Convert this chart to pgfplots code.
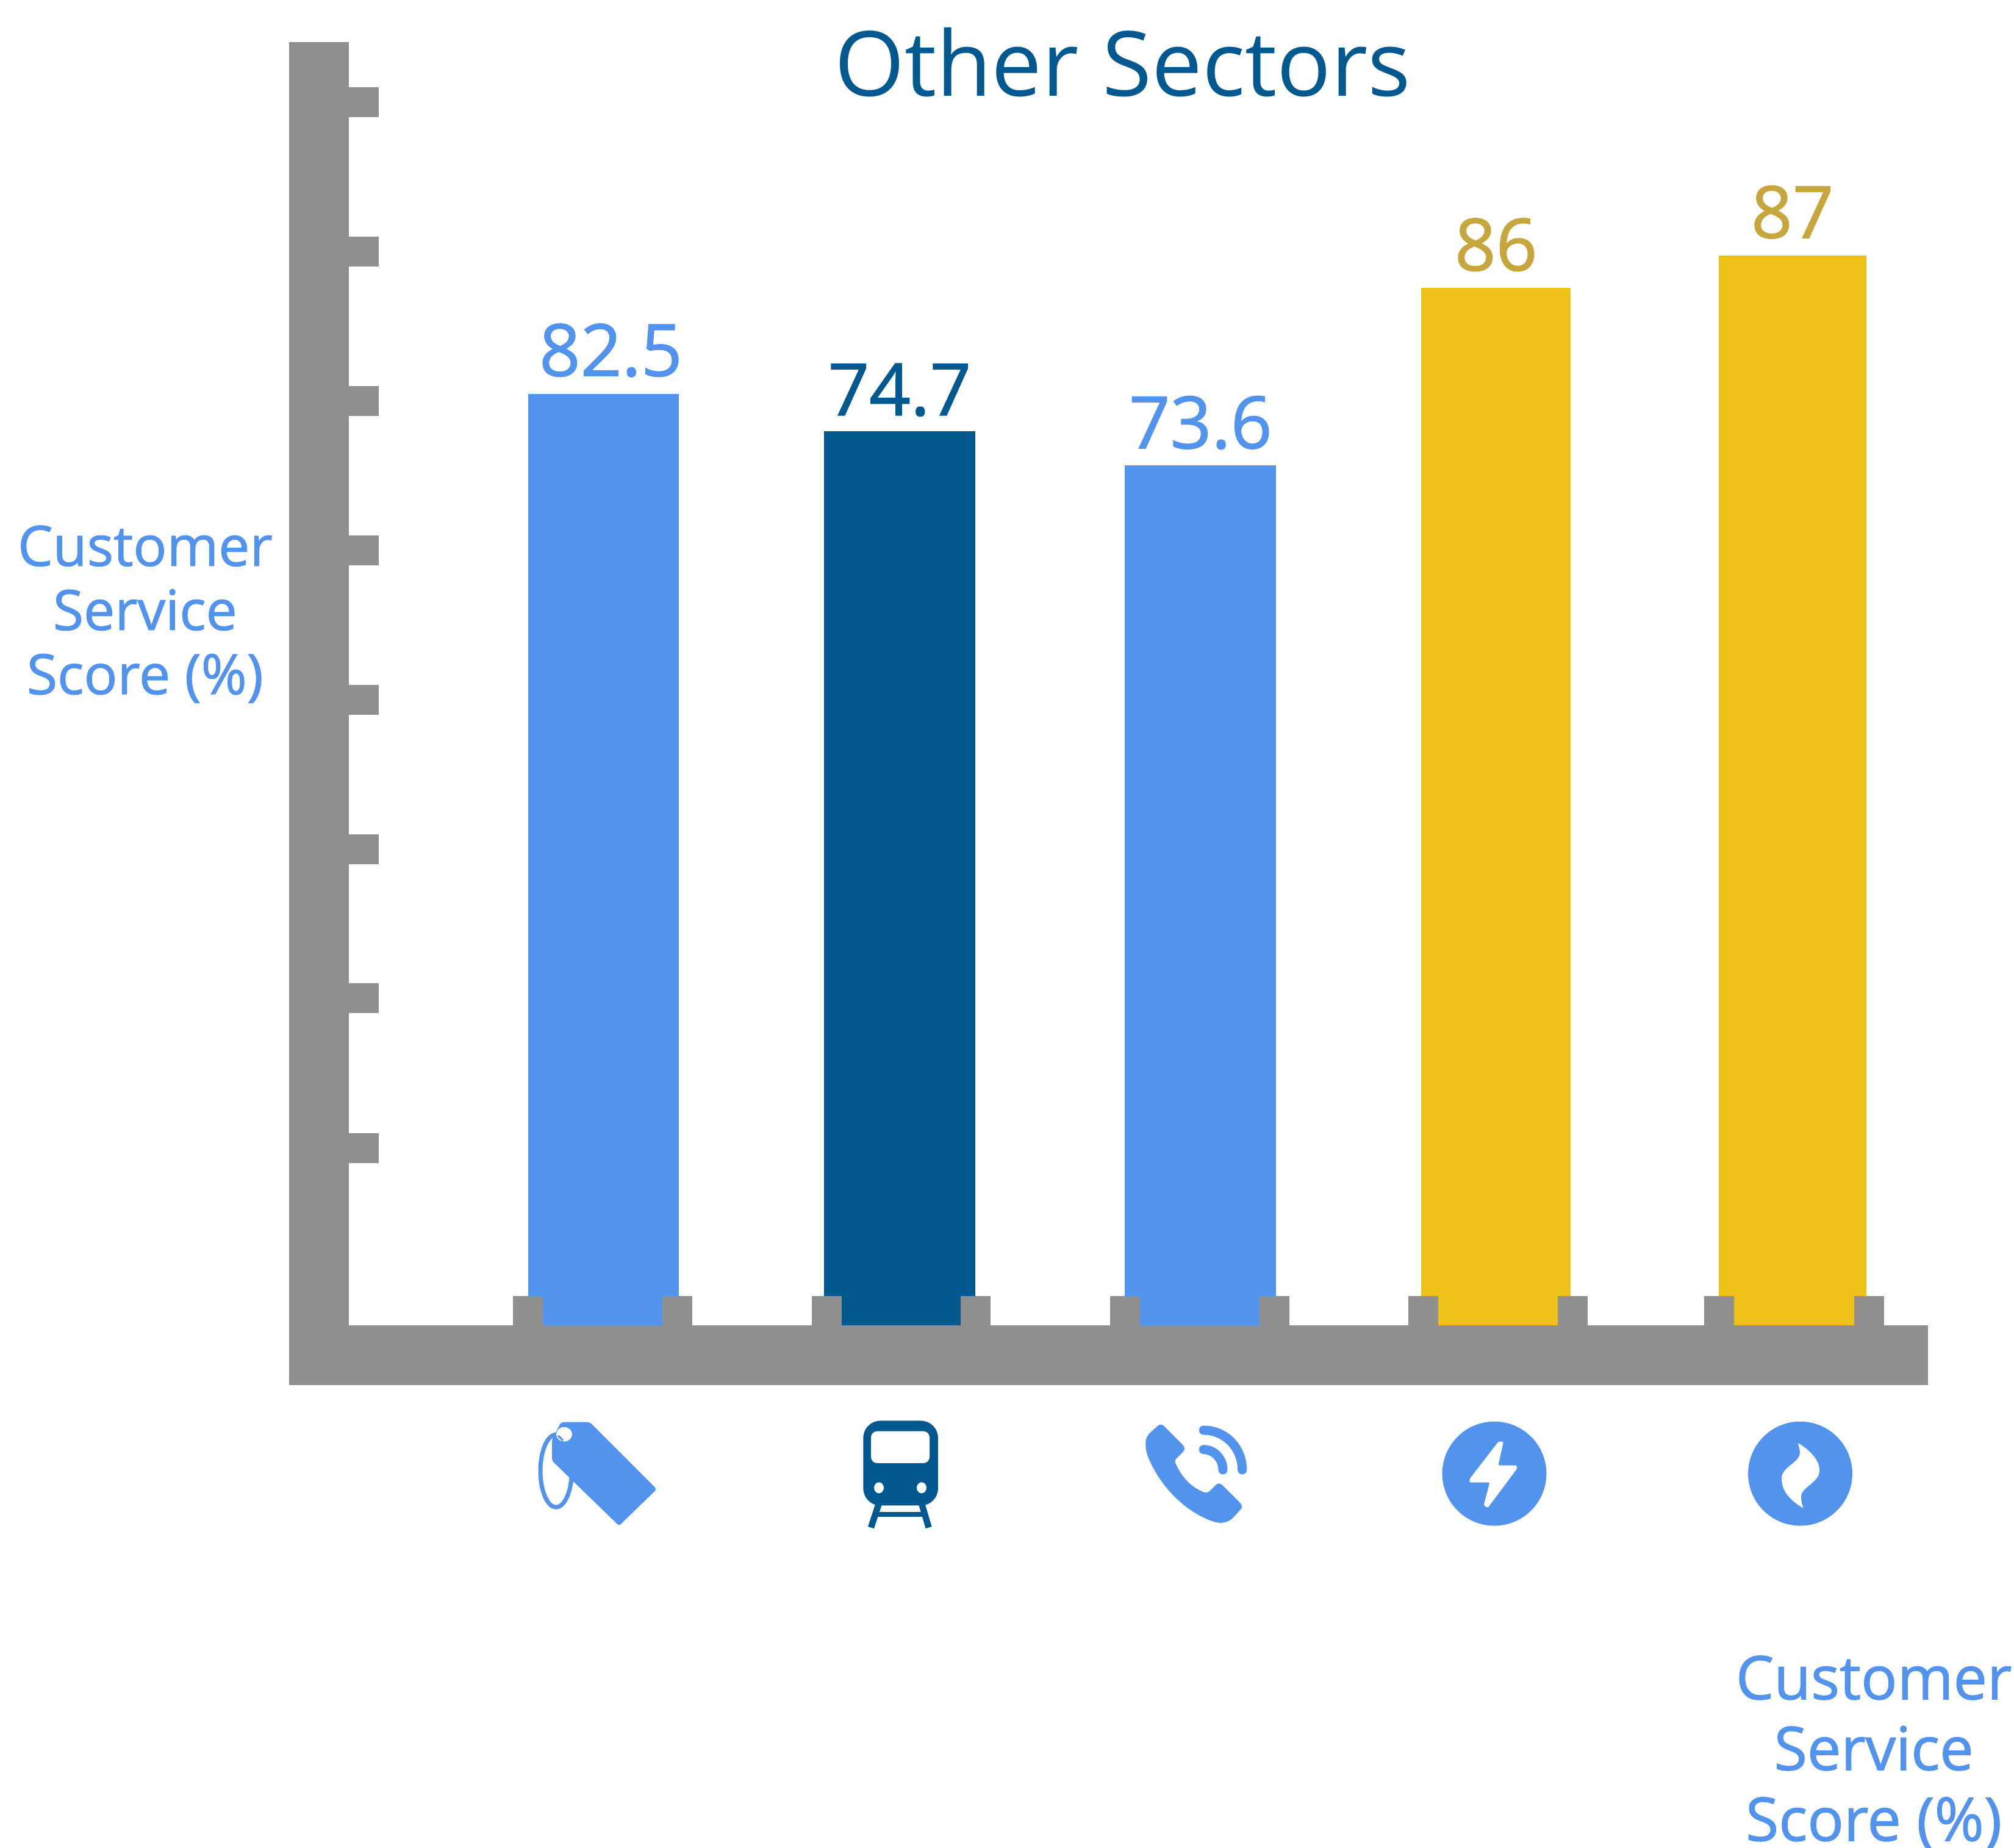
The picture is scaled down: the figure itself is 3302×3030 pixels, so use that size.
\documentclass[border=0pt]{standalone}
\usepackage{fontspec}
\setmainfont{Open Sans}
\newfontfamily\heavyfont{Open Sans}[FakeBold=1.2]
\usepackage{pgfplots}
\pgfplotsset{compat=1.18}
\definecolor{axisgray}{HTML}{8F8F8F}
\definecolor{lightblue}{HTML}{5293EE}
\definecolor{darkblue}{HTML}{01598F}
\definecolor{baryellow}{HTML}{EDC117}
\definecolor{labelgold}{HTML}{C8A63E}

\pgfplotsset{
  scorebar/.style={ybar, bar shift=0pt, bar width=#1, draw=none,
    point meta=explicit symbolic, nodes near coords},
  scorelabel/.style={nodes near coords style={font=\heavyfont\fontsize{29.6}{34}\selectfont, text=#1,
    anchor=base, yshift=7.1pt, inner sep=0pt}}
}

\begin{document}
\begin{tikzpicture}
% 1 reference pixel = 0.25pt, axis corner at pixel (523,2222.5)
\begin{axis}[
  at={(0,0)}, anchor=south west,
  scale only axis, width=647.25pt, height=526.125pt,
  axis x line=bottom, axis y line=left,
  axis line style={-, draw=axisgray, line width=24.5pt, line cap=rect},
  axis on top, clip=false,
  xmin=-0.950, xmax=4.340, ymin=-2.429, ymax=101.9,
  xtick={-0.25,0.25,0.75,1.25,1.75,2.25,2.75,3.25,3.741,4.242},
  ytick={14.45,26.6,38.74,50.88,63.03,75.17,87.31,99.45},
  xticklabels={}, yticklabels={},
  tick align=inside, major tick length=24.4pt,
  tick style={draw=axisgray, line width=12.25pt},
  title={Other Sectors},
  title style={at={(axis description cs:0.509,0.996)}, anchor=center, inner sep=0pt,
    font=\fontsize{36.9}{42}\selectfont, text=darkblue},
  xlabel={Customer\\Service\\Score (\%)},
  xlabel style={at={(axis description cs:0.9846,-0.3097)}, anchor=center, align=center,
    inner sep=0pt, font=\heavyfont\fontsize{24.7}{29}\selectfont, text=lightblue},
  ylabel={Customer\\Service\\Score (\%)},
  ylabel style={at={(axis description cs:-0.1101,0.5775)}, rotate=-90, anchor=center, align=center,
    inner sep=0pt, font=\heavyfont\fontsize{22.8}{26.3}\selectfont, text=lightblue},
]
% bar heights, labels as printed on it
\addplot[scorebar=61.75pt, fill=lightblue, scorelabel=lightblue,
  nodes near coords style={xshift=3pt, yshift=0.4pt}] coordinates {(0.003,75.7)[82.5]};
\addplot[scorebar=61.9pt, fill=darkblue, scorelabel=darkblue,
  nodes near coords style={yshift=-0.6pt}] coordinates {(0.995,72.7)[74.7]};
\addplot[scorebar=62pt, fill=lightblue, scorelabel=lightblue] coordinates {(2.003,69.9)[73.6]};
\addplot[scorebar=61.25pt, fill=baryellow, scorelabel=labelgold] coordinates {(2.993,84.35)[86]};
\addplot[scorebar=60.5pt, fill=baryellow, scorelabel=labelgold] coordinates {(3.986,87.0)[87]};
\end{axis}

% sector icons, in reference pixels
\begin{scope}[x=0.25pt, y=-0.25pt, shift={(-523,-2222.5)}]
  % tag
  \draw[lightblue, line width=1.75pt] (911.7,2411.7) ellipse [x radius=25.7, y radius=59.5];
  \fill[lightblue, rounded corners=1pt] (920,2331.7) -- (966.7,2331.7) -- (1076.7,2441.7) -- (1015,2501.7)
    -- (905,2395) -- (905,2360) -- cycle;
  \fill[white] (925,2351.7) ellipse [x radius=13, y radius=12];
  \draw[lightblue, line width=0.8pt] (915,2354) -- (923,2362);
  % train
  \fill[darkblue, rounded corners=7pt] (1415.4,2329.5) rectangle (1537.9,2468.5);
  \fill[white, rounded corners=2.5pt] (1428,2346.7) rectangle (1524,2399);
  \fill[white] (1441,2439.4) ellipse [x radius=8, y radius=9];
  \fill[white] (1511,2439.4) ellipse [x radius=8, y radius=9];
  \draw[darkblue, line width=2.6pt] (1441,2465) -- (1428,2504.6);
  \draw[darkblue, line width=2.6pt] (1511,2465) -- (1522.6,2504.6);
  \fill[darkblue] (1436,2479) rectangle (1516,2487.4);
  % phone
  \fill[lightblue] (1898,2338) .. controls (1901,2335) and (1905,2335) .. (1908,2338)
    -- (1939,2369) .. controls (1943,2373) and (1943,2377) .. (1939,2381)
    -- (1929,2391) .. controls (1926,2394) and (1926,2397) .. (1928,2401)
    .. controls (1940,2425) and (1952,2437) .. (1972,2446)
    .. controls (1976,2448) and (1980,2448) .. (1983,2445)
    -- (1993,2435) .. controls (1997,2431) and (2001,2432) .. (2004,2435)
    -- (2033,2464) .. controls (2037,2468) and (2037,2472) .. (2034,2475)
    -- (2020,2490) .. controls (2010,2498) and (2000,2498) .. (1990,2495)
    .. controls (1945,2480) and (1905,2440) .. (1885,2395)
    .. controls (1880,2385) and (1878,2375) .. (1878.3,2368)
    .. controls (1878,2358) and (1882,2352) .. (1888,2347) -- cycle;
  \draw[lightblue, line width=3.75pt, line cap=round] (1973.3,2345)
    .. controls (2009,2345) and (2036.7,2374) .. (2036.7,2410);
  \draw[lightblue, line width=3.75pt, line cap=round] (1973.3,2376.7)
    .. controls (1991,2376.7) and (2005,2392) .. (2005,2410);
  % bolt
  \fill[lightblue] (2450,2416.2) circle [radius=85.4];
  \fill[white, rounded corners=0.6pt] (2457,2363.3) -- (2465,2364) -- (2456.3,2402.7) -- (2487,2402.7)
    -- (2487,2408.3) -- (2439.3,2472.3) -- (2432.6,2468.3) -- (2442.4,2430.7) -- (2409.4,2430.7)
    -- (2409.4,2425) -- cycle;
  % flame
  \fill[lightblue] (2951.5,2416.2) circle [radius=85.4];
  \fill[white] (2948,2366) .. controls (2968,2378) and (2984,2395) .. (2983,2412)
    .. controls (2982,2432) and (2952,2438) .. (2953,2455)
    .. controls (2953,2462) and (2955,2467) .. (2956.3,2472.7)
    .. controls (2935,2460) and (2921,2445) .. (2921,2424)
    .. controls (2921,2405) and (2951,2398) .. (2951,2382)
    .. controls (2951,2376) and (2949,2372) .. (2948,2366) -- cycle;
  % page size
  \pgfresetboundingbox
  \path[use as bounding box] (0,0) rectangle (3302,3030);
\end{scope}
\end{tikzpicture}
\end{document}
